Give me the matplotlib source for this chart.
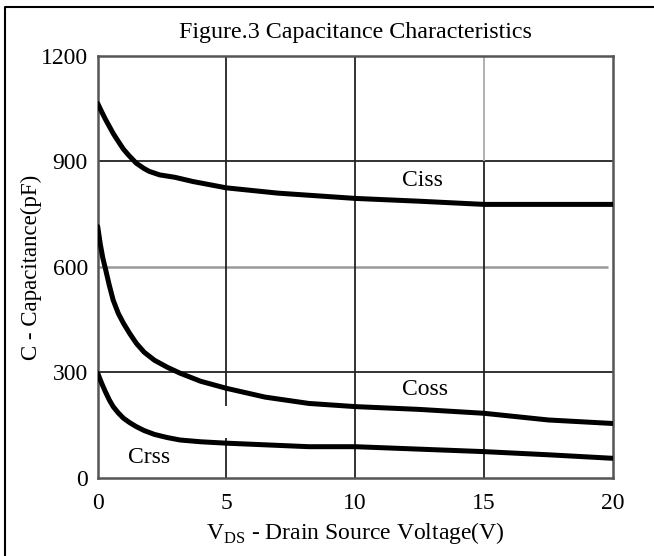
import matplotlib
matplotlib.use("Agg")
import matplotlib.pyplot as plt
from matplotlib.lines import Line2D

plt.rcParams['font.family'] = ['Liberation Serif', 'DejaVu Serif']
plt.rcParams['mathtext.fontset'] = 'custom'
plt.rcParams['mathtext.rm'] = 'Liberation Serif'

# values (V, pF)
ciss_v = [0, 0.15, 0.3, 0.45, 0.6, 0.8, 1.0, 1.2, 1.5, 1.8, 2.0, 2.4, 3.0, 3.7, 5, 7, 10, 12.5, 15, 17.5, 20]
ciss_c = [1065, 1042, 1020, 1000, 980, 957, 935, 918, 895, 880, 872, 862, 855, 843, 825, 810, 795, 787, 778, 778, 778]

coss_v = [0, 0.1, 0.2, 0.3, 0.45, 0.6, 0.8, 1.0, 1.25, 1.5, 1.8, 2.2, 2.7, 3.2, 4.0, 5, 6.5, 8.2, 10, 12.5, 15, 17.5, 20]
coss_c = [715, 665, 625, 595, 548, 506, 468, 440, 410, 383, 358, 335, 315, 298, 275, 255, 230, 212, 203, 195, 184, 165, 155]

crss_v = [0, 0.15, 0.3, 0.45, 0.6, 0.8, 1.0, 1.25, 1.5, 1.8, 2.2, 2.7, 3.2, 4.0, 5, 8.2, 10, 12.5, 15, 17.5, 20]
crss_c = [298, 270, 245, 222, 203, 185, 170, 157, 146, 135, 124, 115, 108, 103, 99, 89, 89, 82, 75, 66, 56]

x_ticks = [0, 5, 10, 15, 20]
y_ticks = [0, 300, 600, 900, 1200]

fig = plt.figure(figsize=(6.54, 5.56), dpi=100)
ax = fig.add_axes([0.1494, 0.1403, 0.7874, 0.7590])

# outer frame (only top and left edges show in the picture)
fig.lines.append(Line2D([0.007, 0.007, 1.0], [0.0, 0.987, 0.987], transform=fig.transFigure,
                        color='black', linewidth=1.5))

# grid
ax.hlines(900, 0, 20, color='#222222', lw=1.3, zorder=1)
ax.hlines(600, 0, 19.8, color='#999999', lw=1.8, zorder=1)
ax.hlines(300, 0, 20, color='#222222', lw=1.3, zorder=1)
ax.vlines(5, 205, 1200, color='#222222', lw=1.3, zorder=1)
ax.vlines(5, 0, 115, color='#222222', lw=1.3, zorder=1)
ax.vlines(10, 0, 1200, color='#222222', lw=1.3, zorder=1)
ax.vlines(15, 900, 1200, color='#aaaaaa', lw=1.3, zorder=1)
ax.vlines(15, 0, 900, color='#222222', lw=1.3, zorder=1)

# curves
for v, c in [(ciss_v, ciss_c), (coss_v, coss_c), (crss_v, crss_c)]:
    ax.plot(v, c, color='black', lw=3.6, solid_capstyle='round',
            solid_joinstyle='round', zorder=3)

ax.text(12.6, 845, 'Ciss', fontsize=17, ha='center', va='center')
ax.text(12.7, 252, 'Coss', fontsize=17, ha='center', va='center')
ax.text(2.0, 57, 'Crss', fontsize=17, ha='center', va='center')

ax.set_xlim(0, 20)
ax.set_ylim(0, 1200)
ax.set_xticks(x_ticks)
ax.set_yticks(y_ticks)
ax.tick_params(length=0, labelsize=17, colors='black')
ax.tick_params(axis='x', pad=11)
ax.tick_params(axis='y', pad=7)
for s in ax.spines.values():
    s.set_color('#555555')
    s.set_linewidth(1.8)

ax.set_title('Figure.3 Capacitance Characteristics', fontsize=17.3, pad=13)
ax.set_xlabel(r'V$_{\mathrm{DS}}$ - Drain Source Voltage(V)', fontsize=17, labelpad=4)
ax.set_ylabel('C - Capacitance(pF)', fontsize=16.5, labelpad=-1)

fig.savefig('out.png', dpi=100)
